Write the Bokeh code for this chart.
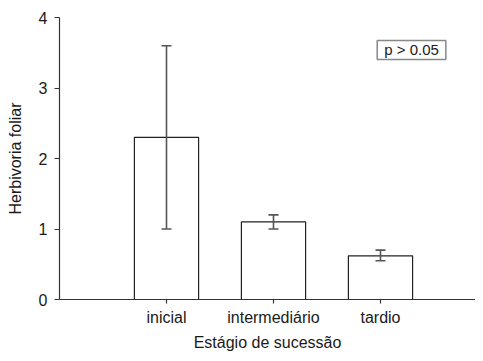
from bokeh.plotting import figure
from bokeh.models import ColumnDataSource, Range1d, Whisker, TeeHead, Label, FixedTicker
from bokeh.embed import file_html
from bokeh.resources import INLINE

# data
stages = ["inicial", "intermediário", "tardio"]
herbivory = [2.3, 1.1, 0.62]
err_lower = [1.0, 1.0, 0.55]
err_upper = [3.6, 1.2, 0.70]
y_ticks = [0, 1, 2, 3, 4]
note = "p > 0.05"

FONT = "Liberation Sans"
TXT = "#1a1a1a"

pos = [i + 1 for i in range(len(stages))]
src = ColumnDataSource(data=dict(x=pos, value=herbivory, lower=err_lower, upper=err_upper))

p = figure(
    width=475, height=353,
    x_range=Range1d(0, 3.888),
    y_range=Range1d(0, 4),
    output_backend="svg", toolbar_location=None,
    min_border_left=59, min_border_right=0, min_border_top=17, min_border_bottom=53,
)
p.outline_line_color = None
p.xgrid.grid_line_color = None
p.ygrid.grid_line_color = None
p.background_fill_color = "white"
p.border_fill_color = "white"

p.vbar(x="x", top="value", width=0.6, source=src,
       fill_color="white", line_color="#222222", line_width=1.2)

w = Whisker(base="x", lower="lower", upper="upper", source=src,
            line_color="#555555", line_width=1.6, level="overlay",
            upper_head=TeeHead(size=10, line_color="#555555", line_width=1.6),
            lower_head=TeeHead(size=10, line_color="#555555", line_width=1.6))
p.add_layout(w)

# axes
for ax in (p.xaxis[0], p.yaxis[0]):
    ax.axis_line_color = "#333333"
    ax.axis_line_width = 1.2
    ax.major_tick_line_color = "#333333"
    ax.major_tick_line_width = 1.2
    ax.minor_tick_line_color = None
    ax.major_tick_in = 0
    ax.major_label_text_font = FONT
    ax.major_label_text_font_size = "16px"
    ax.major_label_text_color = TXT
    ax.axis_label_text_font = FONT
    ax.axis_label_text_font_size = "16px"
    ax.axis_label_text_font_style = "normal"
    ax.axis_label_text_color = TXT

p.yaxis.ticker = FixedTicker(ticks=y_ticks)
p.yaxis.major_tick_out = 5
p.yaxis.major_label_standoff = 7
p.yaxis.axis_label = "Herbivoria foliar"
p.yaxis.axis_label_standoff = 12

p.xaxis.ticker = FixedTicker(ticks=pos)
p.xaxis.major_label_overrides = {i: s for i, s in zip(pos, stages)}
p.xaxis.major_tick_out = 4
p.xaxis.major_label_standoff = 5
p.xaxis.axis_label = "Estágio de sucessão"
p.xaxis.axis_label_standoff = 5

lab = Label(x=3.29, y=3.54, x_units="data", y_units="data", text=note,
            text_font=FONT, text_font_size="15px", text_color=TXT,
            text_align="center", text_baseline="middle",
            border_line_color="#888888", border_line_width=1.5,
            background_fill_color="white",
            padding=dict(left=7, right=7, top=1, bottom=1))
p.add_layout(lab)

open("out.html", "w").write(file_html(p, INLINE))
